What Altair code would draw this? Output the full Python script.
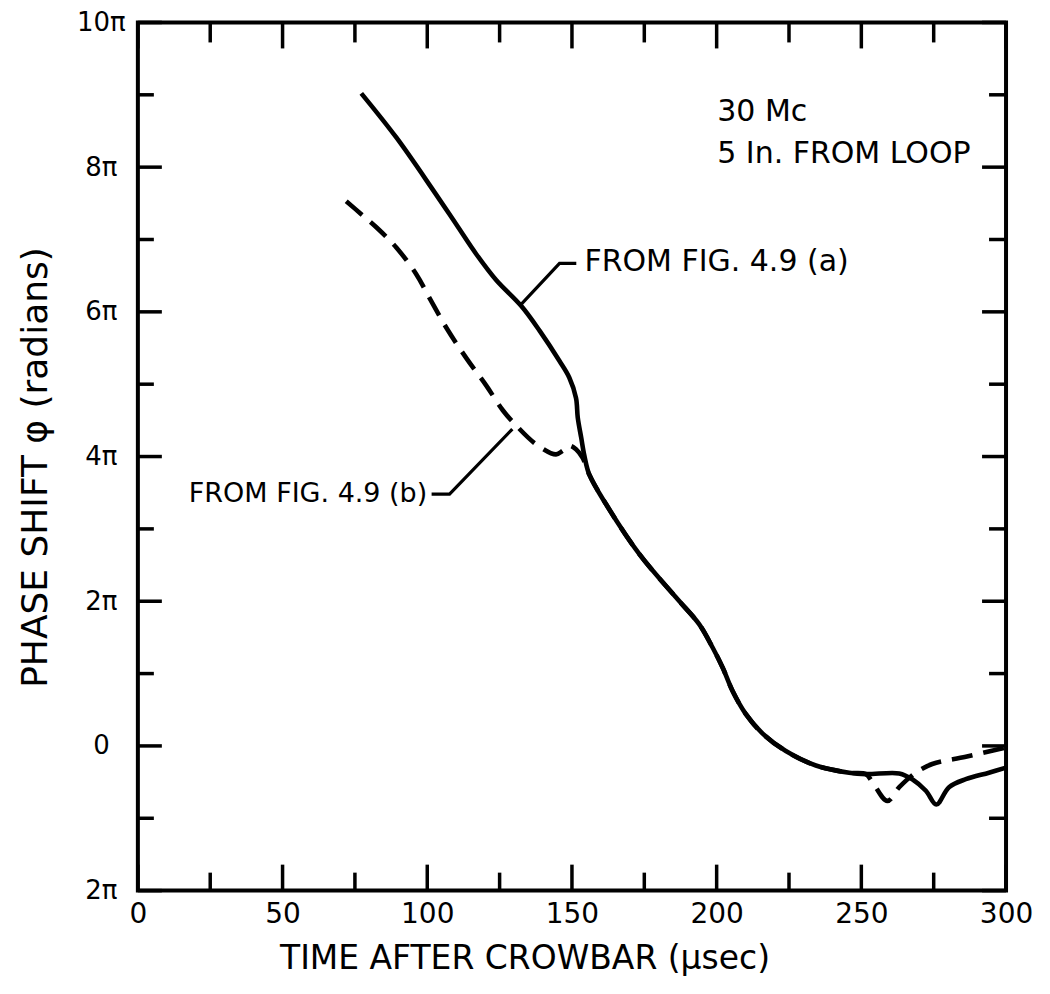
import altair as alt
import pandas as pd

FONT = "DejaVu Sans"

# ---- data (time in µsec, phase in units of π) ----
# Curve (a) "FROM FIG. 4.9 (a)" - solid
t_a = [77.2, 89.3, 101.9, 110.0, 116.9, 123.8, 132.5, 138.8, 145.7, 149.1,
       151.4, 152.0, 153.2, 154.3, 156.0, 161.8, 173.3, 186.0, 194.0, 198.6,
       202.1, 205.5, 210.1, 215.9, 223.9, 234.3, 245.8, 251.6, 263.1, 267.6,
       272.3, 275.9, 280.3, 286.1, 294.1, 300.0]
phi_a = [9.02, 8.41, 7.69, 7.21, 6.80, 6.44, 6.08, 5.74, 5.32, 5.09,
         4.81, 4.54, 4.26, 4.01, 3.75, 3.34, 2.65, 2.05, 1.68, 1.36,
         1.08, 0.76, 0.44, 0.17, -0.07, -0.27, -0.37, -0.39, -0.38, -0.46,
         -0.62, -0.81, -0.57, -0.46, -0.37, -0.30]

# Curve (b) "FROM FIG. 4.9 (b)" - dashed
t_b = [72.0, 77.2, 82.4, 89.3, 96.2, 100.8, 106.6, 113.5, 120.4, 126.1,
       130.7, 137.6, 144.5, 146.8, 149.1, 151.4, 153.7, 156.0, 161.8, 173.3,
       186.0, 194.0, 198.6, 202.1, 205.5, 210.1, 215.9, 223.9, 234.3, 245.8,
       251.6, 253.8, 259.0, 263.1, 268.8, 274.5, 286.1, 300.0]
phi_b = [7.53, 7.35, 7.17, 6.89, 6.52, 6.19, 5.78, 5.36, 4.98, 4.64,
         4.43, 4.17, 4.03, 4.08, 4.15, 4.10, 3.98, 3.75, 3.34, 2.65,
         2.05, 1.68, 1.36, 1.08, 0.76, 0.44, 0.17, -0.07, -0.27, -0.37,
         -0.39, -0.50, -0.76, -0.57, -0.37, -0.25, -0.15, -0.02]

# leader lines for the curve labels
lead_a_t = [132.6, 145.7, 151.5]
lead_a_phi = [6.11, 6.67, 6.67]
lead_b_t = [129.4, 107.7, 101.5]
lead_b_phi = [4.38, 3.48, 3.48]

# annotation texts
notes_left_text = ["30 Mc", "5 In. FROM LOOP", "FROM FIG. 4.9 (a)"]
notes_left_t = [200.2, 200.2, 154.3]
notes_left_phi = [8.76, 8.18, 6.69]
notes_right_text = ["FROM FIG. 4.9 (b)"]
notes_right_t = [100.0]
notes_right_phi = [3.48]

# axis ticks
x_major = [0, 50, 100, 150, 200, 250, 300]
x_minor = [25, 75, 125, 175, 225, 275]
y_major = [-2, 0, 2, 4, 6, 8, 10]
y_minor = [-1, 1, 3, 5, 7, 9]

W, H = 869, 869

xs = alt.Scale(domain=[0, 300], nice=False, zero=False)
ys = alt.Scale(domain=[-2, 10], nice=False, zero=False)

x_axis = alt.Axis(values=x_major, ticks=False, tickSize=0, domain=False, grid=False,
                  labelFont=FONT, labelFontSize=28, labelColor="black",
                  labelPadding=10, labelFlush=False, labelOverlap=False,
                  title="TIME AFTER CROWBAR (μsec)", titleFont=FONT,
                  titleFontSize=33, titleFontWeight="normal", titleColor="black",
                  titleX=387, titleY=78, titleAlign="center",
                  titleBaseline="alphabetic")
y_axis = alt.Axis(values=y_major, ticks=False, tickSize=0, domain=False, grid=False,
                  labelFont=FONT, labelFontSize=26, labelColor="black",
                  labelPadding=37, labelAlign="center", labelBaseline="middle",
                  labelFlush=False, labelOverlap=False,
                  labelExpr="datum.value == 0 ? '0' : (abs(datum.value) + 'π')",
                  title="PHASE SHIFT φ (radians)", titleFont=FONT,
                  titleFontSize=36, titleFontWeight="normal", titleColor="black",
                  titleX=-91, titleY=445, titleAlign="center",
                  titleBaseline="alphabetic", titleAngle=270)

df_a = pd.DataFrame({"t": t_a, "phi": phi_a})
df_b = pd.DataFrame({"t": t_b, "phi": phi_b})

curve_b = alt.Chart(df_b).mark_line(
    color="black", strokeWidth=4.6, strokeDash=[21, 11], interpolate="catmull-rom"
).encode(x=alt.X("t:Q", scale=xs, axis=x_axis),
         y=alt.Y("phi:Q", scale=ys, axis=y_axis))

curve_a = alt.Chart(df_a).mark_line(
    color="black", strokeWidth=4.6, interpolate="catmull-rom"
).encode(x=alt.X("t:Q", scale=xs), y=alt.Y("phi:Q", scale=ys))

lead_df = pd.DataFrame({
    "t": lead_a_t + lead_b_t,
    "phi": lead_a_phi + lead_b_phi,
    "g": ["a"] * len(lead_a_t) + ["b"] * len(lead_b_t),
    "o": list(range(len(lead_a_t))) + list(range(len(lead_b_t))),
})
leaders = alt.Chart(lead_df).mark_line(color="black", strokeWidth=3.2).encode(
    x=alt.X("t:Q", scale=xs), y=alt.Y("phi:Q", scale=ys),
    detail="g:N", order="o:Q")

txt_l = alt.Chart(pd.DataFrame({"t": notes_left_t, "phi": notes_left_phi,
                                "label": notes_left_text})).mark_text(
    font=FONT, fontSize=30, align="left", baseline="middle", color="black"
).encode(x=alt.X("t:Q", scale=xs), y=alt.Y("phi:Q", scale=ys), text="label:N")

txt_r = alt.Chart(pd.DataFrame({"t": notes_right_t, "phi": notes_right_phi,
                                "label": notes_right_text})).mark_text(
    font=FONT, fontSize=27, align="right", baseline="middle", color="black"
).encode(x=alt.X("t:Q", scale=xs), y=alt.Y("phi:Q", scale=ys), text="label:N")


def xticks(vals, y0, y1):
    return alt.Chart(pd.DataFrame({"t": vals})).mark_rule(
        color="black", strokeWidth=3.5).encode(
        x=alt.X("t:Q", scale=xs), y=alt.value(y0), y2=alt.value(y1))


def yticks(vals, x0, x1):
    return alt.Chart(pd.DataFrame({"phi": vals})).mark_rule(
        color="black", strokeWidth=3.5).encode(
        y=alt.Y("phi:Q", scale=ys), x=alt.value(x0), x2=alt.value(x1))


ticks = [
    xticks(x_major, H, H - 26), xticks(x_minor, H, H - 18),
    xticks(x_major, 0, 26), xticks(x_minor, 0, 20),
    yticks(y_major, 0, 24), yticks(y_minor, 0, 16),
    yticks(y_major, W, W - 24), yticks(y_minor, W, W - 17),
]

chart = alt.layer(curve_b, curve_a, leaders, txt_l, txt_r, *ticks).properties(
    width=W, height=H,
    autosize=alt.AutoSizeParams(type="none"),
    padding={"left": 130, "top": 14, "right": 36, "bottom": 94},
    background="white",
).configure_view(stroke="black", strokeWidth=4)

chart.save("out.html", embed_options={"renderer": "svg", "actions": False})
